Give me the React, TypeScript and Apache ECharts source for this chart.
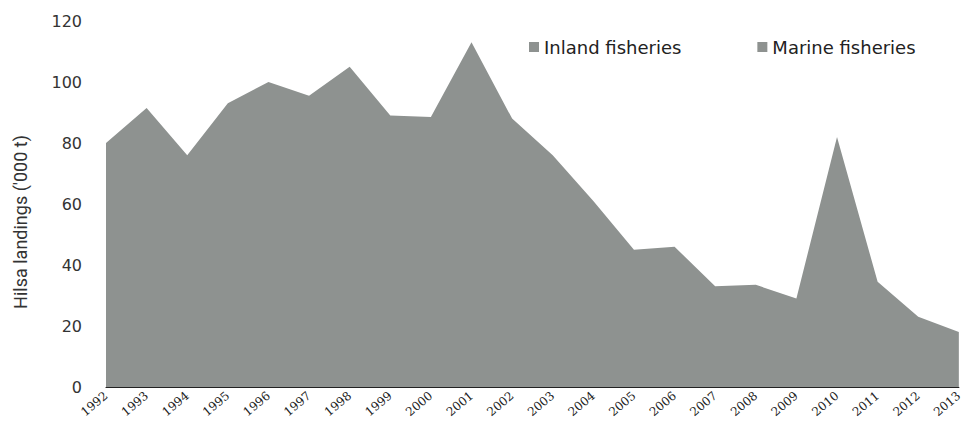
import React, { useEffect, useRef } from "react";
import * as echarts from "echarts";

// Years on the category axis
const years: string[] = [
  "1992", "1993", "1994", "1995", "1996", "1997", "1998", "1999", "2000", "2001", "2002",
  "2003", "2004", "2005", "2006", "2007", "2008", "2009", "2010", "2011", "2012", "2013",
];

// Visible (combined) area outline, '000 t — both series share one grey in the source
const inlandFisheries: number[] = [
  80, 91.5, 76, 93, 100, 95.5, 105, 89, 88.5, 113, 88,
  76, 61, 45, 46, 33, 33.5, 29, 82, 34.5, 23, 18,
];
const marineFisheries: number[] = [];

const yTicks = { min: 0, max: 120, interval: 20 };
const seriesNames = ["Inland fisheries", "Marine fisheries"];
const yTitle = "Hilsa landings ('000 t)";

export default function App() {
  const ref = useRef<HTMLDivElement>(null);
  useEffect(() => {
    if (!ref.current) return;
    const chart = echarts.init(ref.current, undefined, { renderer: "svg" });
    const grey = "#8e9290";
    chart.setOption({
      animation: false,
      backgroundColor: "#ffffff",
      grid: { left: 106, right: 2, top: 21, bottom: 36, containLabel: false },
      legend: {
        data: seriesNames,
        left: 524,
        top: 33,
        itemWidth: 10,
        itemHeight: 10,
        itemGap: 76,
        icon: "rect",
        textStyle: { fontFamily: "DejaVu Sans", fontSize: 18, color: "#222" },
      },
      xAxis: {
        type: "category",
        data: years,
        boundaryGap: false,
        axisLine: { show: true, lineStyle: { color: "#222", width: 1.2 } },
        axisTick: { show: false },
        axisLabel: {
          rotate: 40,
          interval: 0,
          margin: 7,
          fontFamily: "DejaVu Serif",
          fontSize: 12,
          color: "#222",
        },
        splitLine: { show: false },
      },
      yAxis: {
        type: "value",
        min: yTicks.min,
        max: yTicks.max,
        interval: yTicks.interval,
        axisLine: { show: false },
        axisTick: { show: false },
        splitLine: { show: false },
        axisLabel: {
          margin: 24,
          fontFamily: "DejaVu Sans",
          fontSize: 16,
          color: "#333",
        },
      },
      graphic: [
        {
          type: "text",
          x: 20,
          y: 222,
          rotation: Math.PI / 2,
          style: {
            text: yTitle,
            fontFamily: "Roboto, sans-serif",
            fontSize: 18,
            fill: "#333",
            align: "center",
            verticalAlign: "middle",
          },
        },
      ],
      series: [
        {
          name: seriesNames[0],
          type: "line",
          data: inlandFisheries,
          symbol: "none",
          lineStyle: { width: 0 },
          itemStyle: { color: grey },
          areaStyle: { color: grey, opacity: 1 },
        },
        {
          name: seriesNames[1],
          type: "line",
          data: marineFisheries,
          symbol: "none",
          lineStyle: { width: 0 },
          itemStyle: { color: grey },
          areaStyle: { color: grey, opacity: 1 },
        },
      ],
    });
    return () => chart.dispose();
  }, []);
  return (
    <div
      ref={ref}
      style={{ position: "fixed", left: 0, top: 0, width: 965, height: 423 }}
    />
  );
}
